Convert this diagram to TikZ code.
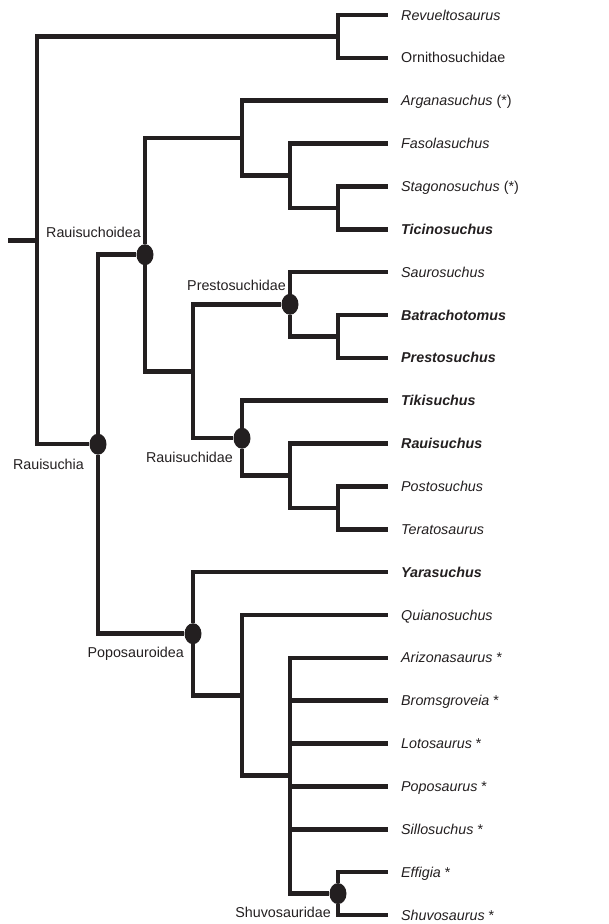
\documentclass[tikz,border=0pt]{standalone}
\usepackage{fontspec}
\setmainfont{Liberation Sans}
\usetikzlibrary{positioning, shapes.geometric}
\definecolor{ink}{RGB}{35,31,32}

\begin{document}
\begin{tikzpicture}[x=1pt,y=-1pt,node distance=42.857pt,
  every edge/.style={draw=ink,line width=4.5pt,to path={|- (\tikztotarget)}},
  leaf/.style={anchor=west,inner xsep=13pt,inner ysep=0pt,text height=10.2pt,text depth=0pt,
    text=ink,font=\fontsize{14.3pt}{17pt}\selectfont\itshape},
  clade/.style={anchor=east,inner sep=0pt,text height=10.2pt,text depth=0pt,
    text=ink,font=\fontsize{14.3pt}{17pt}\selectfont},
  knot/.style={ellipse,fill=ink,minimum width=17pt,minimum height=21pt,inner sep=0pt}]
  \useasboundingbox (0,0) rectangle (609,924);
  \node[leaf] (revueltosaurus) at (388,15) {Revueltosaurus};
  \node[below=of revueltosaurus.west,leaf] (ornithosuchidae) {\upshape Ornithosuchidae};
  \node[below=of ornithosuchidae.west,leaf] (arganasuchus) {Arganasuchus \upshape(*)};
  \node[below=of arganasuchus.west,leaf] (fasolasuchus) {Fasolasuchus};
  \node[below=of fasolasuchus.west,leaf] (stagonosuchus) {Stagonosuchus \upshape(*)};
  \node[below=of stagonosuchus.west,leaf] (ticinosuchus) {\bfseries Ticinosuchus};
  \node[below=of ticinosuchus.west,leaf] (saurosuchus) {Saurosuchus};
  \node[below=of saurosuchus.west,leaf] (batrachotomus) {\bfseries Batrachotomus};
  \node[below=of batrachotomus.west,leaf] (prestosuchus) {\bfseries Prestosuchus};
  \node[below=of prestosuchus.west,leaf] (tikisuchus) {\bfseries Tikisuchus};
  \node[below=of tikisuchus.west,leaf] (rauisuchus) {\bfseries Rauisuchus};
  \node[below=of rauisuchus.west,leaf] (postosuchus) {Postosuchus};
  \node[below=of postosuchus.west,leaf] (teratosaurus) {Teratosaurus};
  \node[below=of teratosaurus.west,leaf] (yarasuchus) {\bfseries Yarasuchus};
  \node[below=of yarasuchus.west,leaf] (quianosuchus) {Quianosuchus};
  \node[below=of quianosuchus.west,leaf] (arizonasaurus) {Arizonasaurus \upshape*};
  \node[below=of arizonasaurus.west,leaf] (bromsgroveia) {Bromsgroveia \upshape*};
  \node[below=of bromsgroveia.west,leaf] (lotosaurus) {Lotosaurus \upshape*};
  \node[below=of lotosaurus.west,leaf] (poposaurus) {Poposaurus \upshape*};
  \node[below=of poposaurus.west,leaf] (sillosuchus) {Sillosuchus \upshape*};
  \node[below=of sillosuchus.west,leaf] (effigia) {Effigia \upshape*};
  \node[below=of effigia.west,leaf] (shuvosaurus) {Shuvosaurus \upshape*};

  \coordinate (stub) at (8,240.3);
  \coordinate (root) at (37,240.3);
  \coordinate (top) at (338,36.4);
  \node[knot] (rauisuchia) at (98,444.2) {};
  \node[knot] (rauisuchoidea) at (145,254.7) {};
  \coordinate (cA) at (242,138.2);
  \coordinate (cB) at (290,175.7);
  \coordinate (cC) at (338,207.9);
  \coordinate (cD) at (193,371.3);
  \node[knot] (prestosuchidae) at (290,304.3) {};
  \coordinate (cE) at (338,336.4);
  \node[knot] (rauisuchidae) at (242,438.2) {};
  \coordinate (cF) at (290,475.7);
  \coordinate (cG) at (338,507.9);
  \node[knot] (poposauroidea) at (193,633.7) {};
  \coordinate (cH) at (242,695.4);
  \coordinate (cI) at (290,775.7);
  \node[knot] (shuvosauridae) at (338,893.6) {};

  \node[clade] (nrauisuchoidea) at (141,232) {Rauisuchoidea};
  \node[clade] (nprestosuchidae) at (286,285) {Prestosuchidae};
  \node[clade] (nrauisuchia) at (84,464) {Rauisuchia};
  \node[clade] (nrauisuchidae) at (233,457) {Rauisuchidae};
  \node[clade] (nposposauroidea) at (184,652) {Poposauroidea};
  \node[clade] (nshuvosauridae) at (331,912) {Shuvosauridae};

  \path (stub) edge[to path={-- (\tikztotarget)}] (root);
  \path
    (root) edge (top)
           edge (rauisuchia)
    (top) edge (revueltosaurus)
          edge (ornithosuchidae)
    (rauisuchia) edge (rauisuchoidea)
                 edge (poposauroidea)
    (rauisuchoidea) edge (cA)
                    edge (cD)
    (cA) edge (arganasuchus)
         edge (cB)
    (cB) edge (fasolasuchus)
         edge (cC)
    (cC) edge (stagonosuchus)
         edge (ticinosuchus)
    (cD) edge (prestosuchidae)
         edge (rauisuchidae)
    (prestosuchidae) edge (saurosuchus)
                     edge (cE)
    (cE) edge (batrachotomus)
         edge (prestosuchus)
    (rauisuchidae) edge (tikisuchus)
                   edge (cF)
    (cF) edge (rauisuchus)
         edge (cG)
    (cG) edge (postosuchus)
         edge (teratosaurus)
    (poposauroidea) edge (yarasuchus)
                    edge (cH)
    (cH) edge (quianosuchus)
         edge (cI)
    (cI) edge (arizonasaurus)
         edge (bromsgroveia)
         edge (lotosaurus)
         edge (poposaurus)
         edge (sillosuchus)
         edge (shuvosauridae)
    (shuvosauridae) edge (effigia)
                    edge (shuvosaurus);
\end{tikzpicture}
\end{document}
